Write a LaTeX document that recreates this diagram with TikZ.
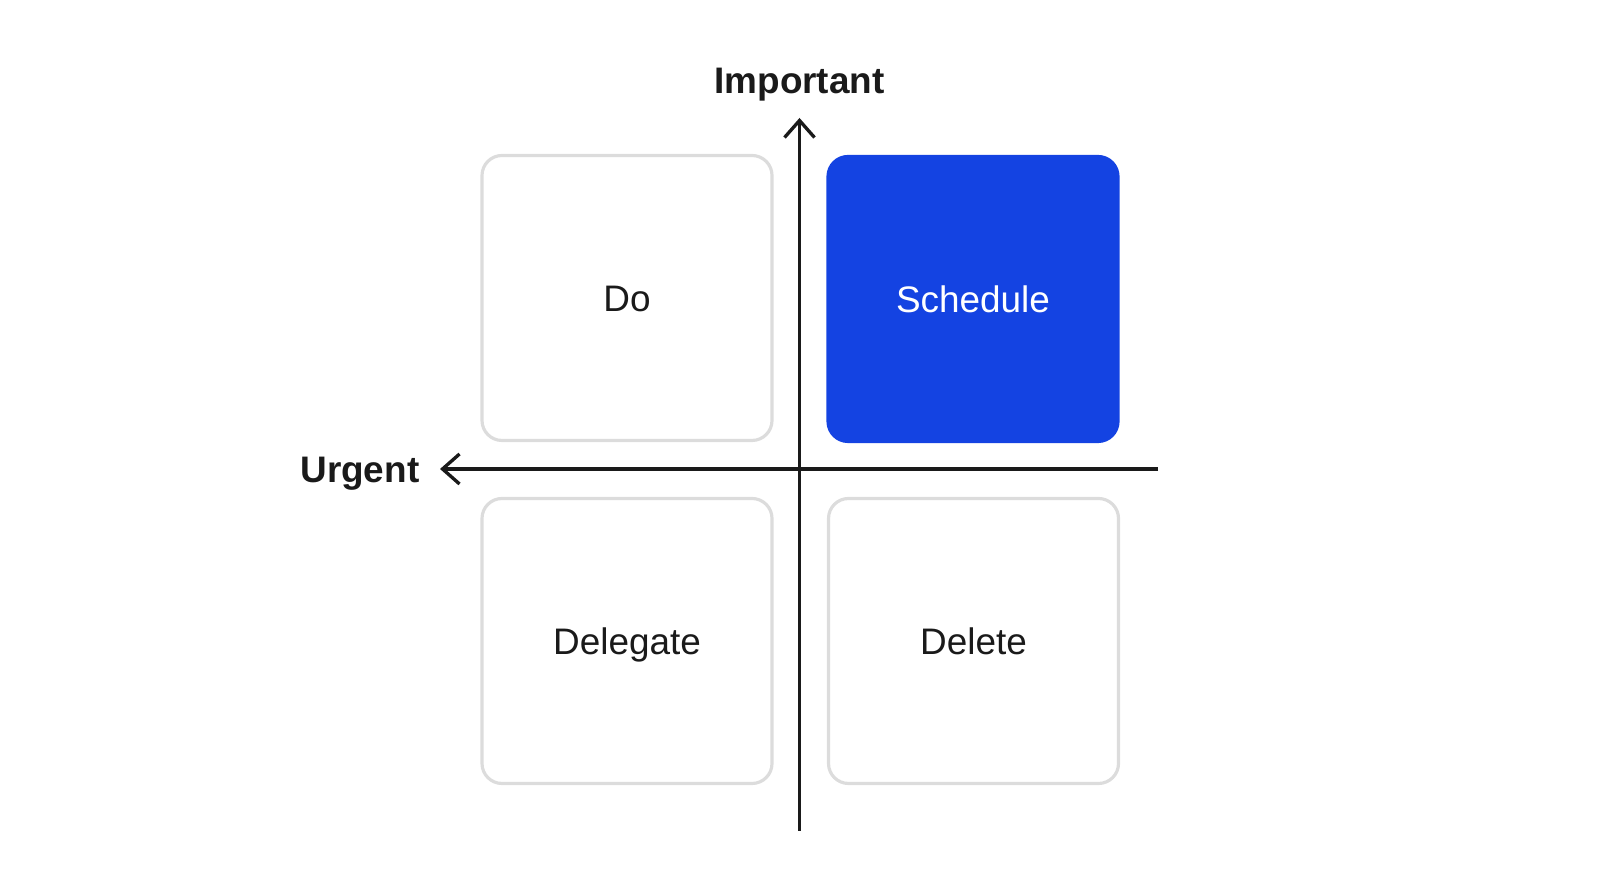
\documentclass[tikz,border=0pt]{standalone}
\usepackage{fontspec}
\setmainfont{Liberation Sans}
\usetikzlibrary{arrows.meta}

\definecolor{quadblue}{HTML}{1443E2}
\definecolor{quadgray}{HTML}{DCDCDC}
\definecolor{axisink}{HTML}{1A1A1A}

\tikzset{
    quadbox/.style={draw=quadgray,line width=0.9pt,rounded corners=2mm,fill=white,
        minimum width=2.9cm,minimum height=2.85cm,inner sep=0,
        text height=7.5pt,text depth=0pt,
        font=\fontsize{10.5pt}{12pt}\selectfont,text=axisink},
    quadfilled/.style={quadbox,draw=quadblue,fill=quadblue,text=white},
    axisline/.style={draw=axisink,line width=0.95pt,-{Straight Barb[length=1.7mm,width=3mm,line width=0.95pt]}},
    axislabel/.style={font=\bfseries\fontsize{10.5pt}{12pt}\selectfont,text=axisink,inner sep=0,
        text height=7.5pt,text depth=0pt}
}

\begin{document}
\begin{tikzpicture}
    \useasboundingbox (0,0) rectangle (16,8.93);
    % quadrants
    \node[quadbox] (do) at (6.27,5.95) {Do};
    \node[quadfilled] (schedule) at (9.73,5.94) {Schedule};
    \node[quadbox] (delegate) at (6.27,2.52) {Delegate};
    \node[quadbox] (delete) at (9.735,2.52) {Delete};
    % axes
    \coordinate (vbottom) at (7.995,0.62);
    \coordinate (vtop) at (7.995,7.75);
    \coordinate (hright) at (11.58,4.24);
    \coordinate (hleft) at (4.40,4.24);
    \draw[axisline] (vbottom) -- (vtop);
    \draw[axisline] (hright) -- (hleft);
    \node[axislabel] (important) at (7.995,8.13) {Important};
    \node[axislabel,anchor=east] (urgent) at (4.20,4.24) {Urgent};
\end{tikzpicture}
\end{document}
